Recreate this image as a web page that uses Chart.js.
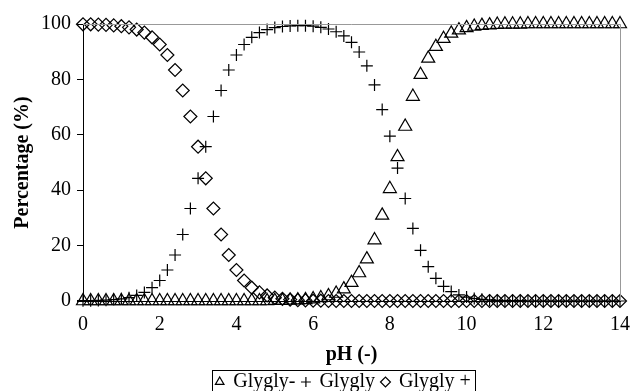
<!DOCTYPE html>
<html>
<head>
<meta charset="utf-8">
<script src="https://cdn.jsdelivr.net/npm/chart.js@4/dist/chart.umd.min.js"></script>
<style>
  html, body { margin: 0; padding: 0; background: #fff; }
  #wrap { width: 630px; height: 391px; }
</style>
</head>
<body>
<div id="wrap"><canvas id="speciesChart" width="630" height="391"></canvas></div>
<script>
// pH values, 0 to 14 every 0.2
const pH = [
  0, 0.2, 0.4, 0.6, 0.8, 1, 1.2, 1.4, 1.6, 1.8,
  2, 2.2, 2.4, 2.6, 2.8, 3, 3.2, 3.4, 3.6, 3.8,
  4, 4.2, 4.4, 4.6, 4.8, 5, 5.2, 5.4, 5.6, 5.8,
  6, 6.2, 6.4, 6.6, 6.8, 7, 7.2, 7.4, 7.6, 7.8,
  8, 8.2, 8.4, 8.6, 8.8, 9, 9.2, 9.4, 9.6, 9.8,
  10, 10.2, 10.4, 10.6, 10.8, 11, 11.2, 11.4, 11.6, 11.8,
  12, 12.2, 12.4, 12.6, 12.8, 13, 13.2, 13.4, 13.6, 13.8, 14
];

// Glygly- (triangles)
const glyglyMinus = [
  0, 0, 0, 0, 0, 0, 0, 0, 0, 0,
  0, 0, 0, 0, 0, 0, 0, 0, 0, 0,
  0, 0, 0, 0, 0, 0.1, 0.1, 0.2, 0.3, 0.4,
  0.7, 1.1, 1.8, 2.7, 4.3, 6.6, 10.1, 15.1, 22.0, 30.9,
  40.5, 52.0, 63.0, 73.8, 81.7, 87.6, 91.8, 94.7, 96.6, 97.8,
  98.6, 99.1, 99.4, 99.6, 99.8, 99.9, 99.9, 99.9, 100, 100,
  100, 100, 100, 100, 100, 100, 100, 100, 100, 100, 100
];

// Glygly (crosses)
const glygly = [
  0.1, 0.1, 0.2, 0.3, 0.5, 0.8, 1.2, 2.0, 3.1, 4.8,
  7.4, 11.2, 16.6, 24.0, 33.4, 44.3, 55.7, 66.6, 76.0, 83.4,
  88.8, 92.6, 95.2, 96.9, 98.0, 98.7, 99.1, 99.3, 99.4, 99.4,
  99.2, 98.8, 98.2, 97.2, 95.7, 93.4, 89.9, 84.9, 78.0, 69.1,
  59.5, 48.0, 37.0, 26.2, 18.3, 12.4, 8.2, 5.3, 3.4, 2.2,
  1.4, 0.9, 0.6, 0.4, 0.2, 0.1, 0.1, 0.1, 0, 0,
  0, 0, 0, 0, 0, 0, 0, 0, 0, 0, 0
];

// Glygly + (diamonds)
const glyglyPlus = [
  99.9, 99.9, 99.8, 99.7, 99.5, 99.2, 98.8, 98.0, 96.9, 95.2,
  92.6, 88.8, 83.4, 76.0, 66.6, 55.7, 44.3, 33.4, 24.0, 16.6,
  11.2, 7.4, 4.8, 3.1, 2.0, 1.2, 0.8, 0.5, 0.3, 0.2,
  0.1, 0.1, 0, 0, 0, 0, 0, 0, 0, 0,
  0, 0, 0, 0, 0, 0, 0, 0, 0, 0,
  0, 0, 0, 0, 0, 0, 0, 0, 0, 0,
  0, 0, 0, 0, 0, 0, 0, 0, 0, 0, 0
];

const xTicks = [0, 2, 4, 6, 8, 10, 12, 14];
const yTicks = [0, 20, 40, 60, 80, 100];

const serif = "'Liberation Serif', 'Times New Roman', serif";

function toPoints(ys) {
  return pH.map((x, i) => ({ x: x, y: ys[i] }));
}

function serie(label, ys, style, radius) {
  return {
    label: label,
    data: toPoints(ys),
    showLine: false,
    borderColor: "#000",
    borderWidth: 1,
    backgroundColor: "rgba(0,0,0,0)",
    pointStyle: style,
    pointRadius: radius,
    pointBorderColor: "#000",
    pointBackgroundColor: "rgba(0,0,0,0)",
    pointBorderWidth: 1.2,
    clip: false
  };
}

// legend sits under the plot, not under the whole canvas
const legendShift = {
  id: "legendShift",
  afterLayout(chart) {
    const lg = chart.legend;
    lg.left += 27;
    lg.right += 27;
  }
};

// gray frame on top and right, box around legend
const framePlugin = {
  id: "frame",
  afterDraw(chart) {
    const ctx = chart.ctx;
    const a = chart.chartArea;
    ctx.save();
    ctx.strokeStyle = "#999";
    ctx.lineWidth = 1;
    ctx.beginPath();
    ctx.moveTo(a.left, a.top + 0.5);
    ctx.lineTo(a.right + 0.5, a.top + 0.5);
    ctx.lineTo(a.right + 0.5, a.bottom);
    ctx.stroke();

    const boxes = chart.legend.legendHitBoxes;
    if (boxes && boxes.length) {
      const l = boxes[0].left - 4;
      const last = boxes[boxes.length - 1];
      const r = last.left + last.width + 4;
      const t = boxes[0].top - 2;
      const b = boxes[0].top + boxes[0].height + 6;
      ctx.strokeStyle = "#000";
      ctx.strokeRect(Math.round(l) + 0.5, Math.round(t) + 0.5, Math.round(r - l), Math.round(b - t));
    }
    ctx.restore();
  }
};

new Chart(document.getElementById("speciesChart"), {
  type: "line",
  data: {
    datasets: [
      serie("Glygly-", glyglyMinus, "triangle", 7.5),
      serie("Glygly", glygly, "cross", 6),
      serie("Glygly +", glyglyPlus, "rectRot", 6.5)
    ]
  },
  options: {
    responsive: false,
    animation: false,
    layout: { padding: { left: 5, right: 2, top: 24, bottom: -11 } },
    plugins: {
      legend: {
        position: "bottom",
        labels: {
          usePointStyle: true,
          boxWidth: 7,
          boxHeight: 7,
          padding: 7,
          color: "#000",
          font: { family: serif, size: 20 }
        }
      },
      tooltip: { enabled: false }
    },
    scales: {
      x: {
        type: "linear",
        min: 0,
        max: 14,
        afterBuildTicks: axis => { axis.ticks = xTicks.map(v => ({ value: v })); },
        grid: { display: true, drawOnChartArea: false, drawTicks: true, tickLength: 14, tickColor: "rgba(0,0,0,0)" },
        border: { color: "#000", width: 1 },
        ticks: { color: "#000", padding: 0, maxRotation: 0, font: { family: serif, size: 20, lineHeight: 1 } },
        title: {
          display: true,
          text: "pH (-)",
          color: "#000",
          padding: { top: 8, bottom: -2 },
          font: { family: serif, size: 20, weight: "bold" }
        }
      },
      y: {
        min: 0,
        max: 100,
        afterBuildTicks: axis => { axis.ticks = yTicks.map(v => ({ value: v })); },
        grid: { display: true, drawOnChartArea: false, drawTicks: true, tickLength: 6, tickColor: "#000" },
        border: { color: "#000", width: 1 },
        ticks: { color: "#000", padding: 6, font: { family: serif, size: 20 } },
        title: {
          display: true,
          text: "Percentage (%)",
          color: "#000",
          padding: { top: 6, bottom: 0 },
          font: { family: serif, size: 20, weight: "bold" }
        }
      }
    }
  },
  plugins: [legendShift, framePlugin]
});
</script>
</body>
</html>
